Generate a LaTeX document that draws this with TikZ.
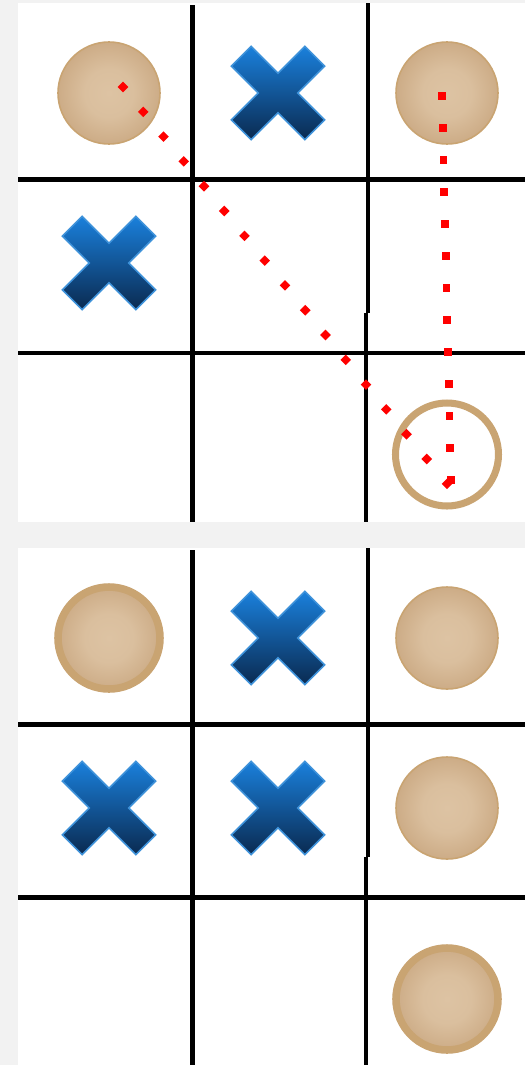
\documentclass[tikz,border=0pt]{standalone}
\usepackage{tikz}

\definecolor{pagegray}{HTML}{F2F2F2}
\definecolor{otan}{HTML}{C9A472}
\definecolor{olight}{HTML}{DDC3A3}
\definecolor{odark}{HTML}{BF996F}
\definecolor{xtop}{HTML}{1A80DC}
\definecolor{xbot}{HTML}{0A2A50}
\definecolor{xedge}{HTML}{3E92DA}

\pgfdeclareradialshading{oball}{\pgfpoint{0bp}{0bp}}{color(0bp)=(olight); color(12bp)=(olight!90!odark); color(38bp)=(odark); color(50bp)=(odark)}

\tikzset{
    gridline/.style={line width=2.4pt, black},
    opiece/.style={shading=oball, draw=otan, line width=0.9pt},
    othick/.style={shading=oball, draw=otan, line width=4.3pt},
    oring/.style={draw=otan, line width=4pt},
    xpiece/.style={top color=xtop, bottom color=xbot, draw=xedge, line width=0.9pt},
    windot/.style={fill=red}
}

% pieces, centre given in pixels
\newcommand{\opiece}[3][opiece]{\shade[#1] (#2,#3) circle (51);}
\newcommand{\xpiece}[2]{%
    \shade[xpiece, shift={(#1,#2)}] (-46.7,-26.9) -- (-26.9,-46.7) -- (0,-19.8)
        -- (26.9,-46.7) -- (46.7,-26.9) -- (19.8,0) -- (46.7,26.9) -- (26.9,46.7)
        -- (0,19.8) -- (-26.9,46.7) -- (-46.7,26.9) -- (-19.8,0) -- cycle;}

\begin{document}
\begin{tikzpicture}[x=0.02cm, y=-0.02cm]
        % 1. Page and the two white boards
        \fill[pagegray] (0,0) rectangle (525,1065);
        \useasboundingbox (0,0) rectangle (525,1065);
        \fill[white] (18,3) rectangle (525,522);
        \fill[white] (18,548) rectangle (525,1065);

        % 2. Grid of the first board
        \draw[gridline] (192.5,5) -- (192.5,522);
        \draw[gridline] (368,3) -- (368,313);
        \draw[gridline] (366,313) -- (366,522);
        \foreach \y in {179.5,353}
            \draw[gridline] (18,\y) -- (525,\y);

        % 3. Grid of the second board
        \draw[gridline] (192.5,550) -- (192.5,1065);
        \draw[gridline] (368,548) -- (368,857);
        \draw[gridline] (366,857) -- (366,1065);
        \foreach \y in {724.5,897.5}
            \draw[gridline] (18,\y) -- (525,\y);

        % 4. Pieces of the first board
        \opiece{109}{93}
        \xpiece{278}{93}
        \opiece{447}{93}
        \xpiece{109}{263}
        \draw[oring] (447,454.5) circle (51.5);

        % 5. Dotted lines over the first board
        \foreach \i in {0,...,16}
            \fill[windot] ({123+20.25*\i},{87+24.8*\i}) +(0,-5.3) -- +(5.3,0) -- +(0,5.3) -- +(-5.3,0) -- cycle;
        \foreach \i in {0,...,12}
            \fill[windot] ({442+0.75*\i},{96+32*\i}) +(-3.8,-3.8) rectangle +(3.8,3.8);

        % 6. Pieces of the second board
        \opiece[othick]{109}{638}
        \xpiece{278}{638}
        \opiece{447}{638}
        \xpiece{109}{808}
        \xpiece{278}{808}
        \opiece{447}{808}
        \opiece[othick]{447}{999}

    \end{tikzpicture}
\end{document}
